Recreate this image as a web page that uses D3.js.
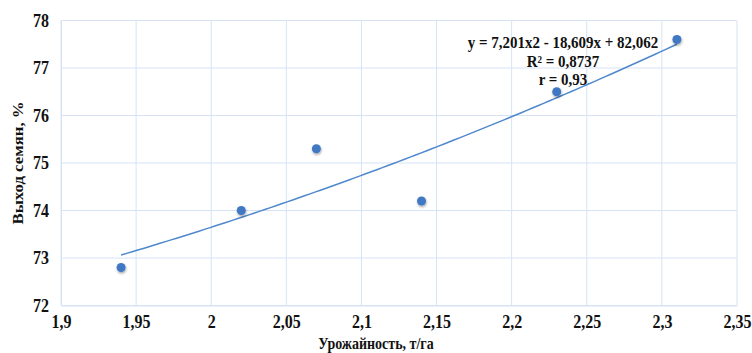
<!DOCTYPE html>
<html>
<head>
<meta charset="utf-8">
<script src="https://cdn.jsdelivr.net/npm/d3@7"></script>
<style>
  body { margin: 0; background: #fff; }
</style>
</head>
<body>
<script>
// урожайность и выход семян
var yieldX = [1.94, 2.02, 2.07, 2.14, 2.23, 2.31];
var seedOut = [72.8, 74.0, 75.3, 74.2, 76.5, 77.6];
var xTicks = [1.9, 1.95, 2, 2.05, 2.1, 2.15, 2.2, 2.25, 2.3, 2.35];
var yTicks = [72, 73, 74, 75, 76, 77, 78];
var trendCoef = [7.201, -18.609, 82.062];
var trendLabels = ["y = 7,201x2 - 18,609x + 82,062", "R² = 0,8737", "r = 0,93"];

var width = 752, height = 353;
var m = {left: 61, top: 20.5, right: 15, bottom: 47.5};
var serif = "'Liberation Serif', 'Times New Roman', Times, serif";
var stretch = "scale(1,1.15)"; // text in the picture looks taller than normal

var svg = d3.select("body").append("svg")
    .attr("width", width)
    .attr("height", height)
    .style("font-family", serif)
    .style("font-weight", "bold");

var x = d3.scaleLinear().domain([1.9, 2.35]).range([m.left, width - m.right]);
var y = d3.scaleLinear().domain([72, 78]).range([height - m.bottom, m.top]);

var fmt = function(d) { return String(d).replace(".", ","); };
var gridCol = "#d6e3f5";

// grid
svg.append("g").selectAll("line").data(xTicks).enter().append("line")
    .attr("x1", d => x(d)).attr("x2", d => x(d))
    .attr("y1", y(72)).attr("y2", y(78))
    .attr("stroke", gridCol).attr("stroke-width", 1);
svg.append("g").selectAll("line").data(yTicks).enter().append("line")
    .attr("x1", x(1.9)).attr("x2", x(2.35))
    .attr("y1", d => y(d)).attr("y2", d => y(d))
    .attr("stroke", gridCol).attr("stroke-width", 1);

// axes
var xAxis = svg.append("g")
    .attr("transform", "translate(0," + y(72) + ")")
    .call(d3.axisBottom(x).tickValues(xTicks).tickFormat(fmt).tickSize(0).tickPadding(8));
var yAxis = svg.append("g")
    .attr("transform", "translate(" + x(1.9) + ",0)")
    .call(d3.axisLeft(y).tickValues(yTicks).tickFormat(fmt).tickSize(0).tickPadding(12));
[xAxis, yAxis].forEach(function(a) {
    a.attr("font-family", null).attr("font-size", null);
    a.select(".domain").attr("stroke", gridCol);
    a.selectAll("text")
        .style("font-size", "16px")
        .style("font-family", serif)
        .attr("fill", "#111")
        .attr("transform", stretch);
});

// trend line
var trend = d3.range(0, 101).map(function(i) {
    var xv = yieldX[0] + (yieldX[yieldX.length - 1] - yieldX[0]) * i / 100;
    return [xv, trendCoef[0] * xv * xv + trendCoef[1] * xv + trendCoef[2]];
});
svg.append("path")
    .datum(trend)
    .attr("fill", "none")
    .attr("stroke", "#4f88cc")
    .attr("stroke-width", 1.5)
    .attr("d", d3.line().x(d => x(d[0])).y(d => y(d[1])));

// points
var defs = svg.append("defs");
var f = defs.append("filter").attr("id", "sh").attr("x", "-50%").attr("y", "-50%").attr("width", "200%").attr("height", "200%");
f.append("feDropShadow").attr("dx", 0.5).attr("dy", 1.5).attr("stdDeviation", 1.2).attr("flood-color", "#000").attr("flood-opacity", 0.35);

svg.append("g").selectAll("circle")
    .data(yieldX).enter().append("circle")
    .attr("cx", d => x(d))
    .attr("cy", (d, i) => y(seedOut[i]))
    .attr("r", 4.5)
    .attr("fill", "#3f78c3")
    .attr("filter", "url(#sh)");

// equation label
svg.append("g").selectAll("text")
    .data(trendLabels).enter().append("text")
    .attr("transform", (d, i) => "translate(563," + (48 + i * 18.5) + ") scale(1,1.1)")
    .attr("text-anchor", "middle")
    .attr("fill", "#111")
    .style("font-size", "15px")
    .text(d => d);

// axis titles
svg.append("text")
    .attr("transform", "translate(23,163) rotate(-90) scale(1.2,1)")
    .attr("text-anchor", "middle")
    .attr("fill", "#111")
    .style("font-size", "14px")
    .text("Выход семян, %");
svg.append("text")
    .attr("transform", "translate(376,349) scale(1,1.2)")
    .attr("text-anchor", "middle")
    .attr("fill", "#111")
    .style("font-size", "14px")
    .text("Урожайность, т/га");
</script>
</body>
</html>
